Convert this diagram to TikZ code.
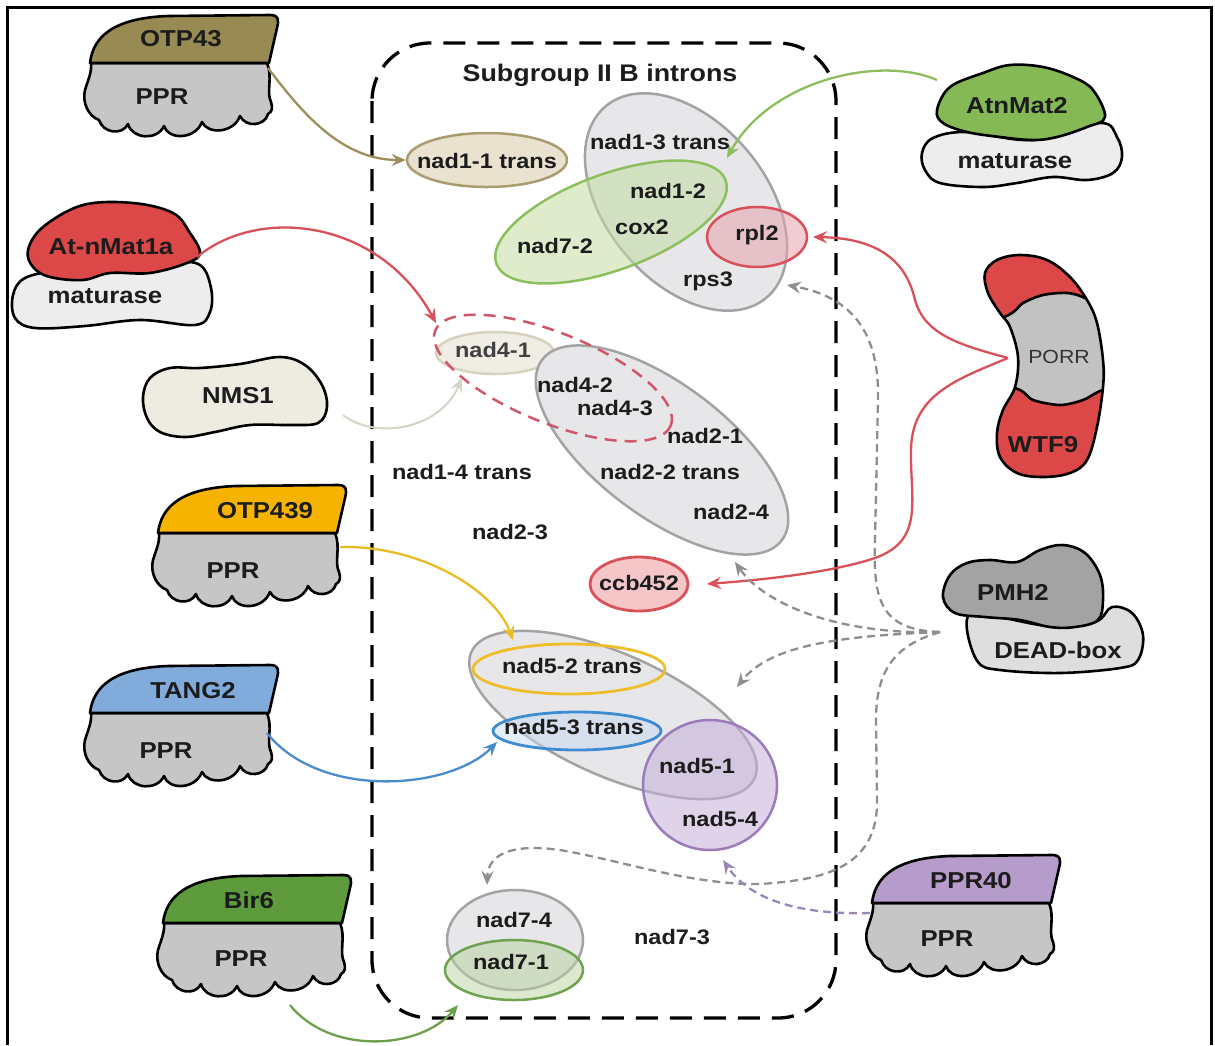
\documentclass[tikz,border=0pt]{standalone}
\usepackage{fontspec}
\setmainfont{Liberation Sans}[FakeStretch=1.12]
\usetikzlibrary{arrows.meta,shapes.geometric}

% protein colours
\definecolor{txt}{HTML}{1C1C1C}
\definecolor{cOlive}{HTML}{978A52}
\definecolor{cPPR}{HTML}{C6C6C6}
\definecolor{cRed}{HTML}{DC4747}
\definecolor{cMat}{HTML}{EDEDED}
\definecolor{cGreenMat}{HTML}{84B956}
\definecolor{cNMS}{HTML}{EEECE1}
\definecolor{cAmber}{HTML}{F6B400}
\definecolor{cBlue}{HTML}{80ABDA}
\definecolor{cBir}{HTML}{5E9B3D}
\definecolor{cPMH}{HTML}{A3A3A3}
\definecolor{cDEAD}{HTML}{DEDEDE}
\definecolor{cLav}{HTML}{B59CCB}
\definecolor{cPORR}{HTML}{C2C2C2}
% connector colours
\definecolor{aOlive}{HTML}{9C8F5C}
\definecolor{aRed}{HTML}{D9505A}
\definecolor{aGreen}{HTML}{8DBD5E}
\definecolor{aNMS}{HTML}{D6D4C6}
\definecolor{aYellow}{HTML}{E8BC22}
\definecolor{aBlue}{HTML}{4A8BC9}
\definecolor{aBir}{HTML}{6E9F4B}
\definecolor{aGrey}{HTML}{8E8E8E}
\definecolor{aPurple}{HTML}{9A86B8}
% intron ellipse colours
\definecolor{eTanF}{HTML}{E9E2CF}
\definecolor{eTanD}{HTML}{A89C70}
\definecolor{eGreyF}{HTML}{E7E7EA}
\definecolor{eGreyD}{HTML}{A3A3A6}
\definecolor{eGreenF}{HTML}{C2DDA2}
\definecolor{eGreenD}{HTML}{8DBF5E}
\definecolor{eRedF}{HTML}{E6A3AC}
\definecolor{ePaleF}{HTML}{F0EEE4}
\definecolor{ePaleD}{HTML}{D6D2C0}
\definecolor{eDash}{HTML}{D2566A}
\definecolor{eCcbF}{HTML}{F4C6C8}
\definecolor{eYelD}{HTML}{EDBE2A}
\definecolor{eBlueF}{HTML}{C6DBF0}
\definecolor{eBlueD}{HTML}{3F8BD2}
\definecolor{ePurF}{HTML}{C4AFD9}
\definecolor{ePurD}{HTML}{9B7BB9}
\definecolor{eN7F}{HTML}{B9D3A0}
\definecolor{eN7D}{HTML}{6FA34F}

\tikzset{
  blob/.style={draw=black, line width=2.6pt, line join=round},
  pics/pprprot/.style={code={
    % wavy PPR domain
    \filldraw[fill=cPPR, blob]
      (3,51) -- (179,51)
      .. controls (185,65) and (178,80) .. (183,90)
      .. controls (185,96) and (184,100) .. (180,102)
      .. controls (177,114) and (158,116) .. (152,104)
      .. controls (146,121) and (120,123) .. (114,110)
      .. controls (107,128) and (80,128) .. (76,114)
      .. controls (69,129) and (44,127) .. (40,112)
      .. controls (34,124) and (15,121) .. (11,108)
      .. controls (0,104) and (-6,90) .. (-3,78)
      .. controls (0,68) and (4,60) .. (3,51) -- cycle;
    % coloured cap
    \filldraw[fill=#1, blob]
      (2,51) .. controls (5,25) and (25,6) .. (80,4)
      -- (182,3) .. controls (191,3) and (191,8) .. (189,16)
      -- (181,51) -- cycle;
  }}
}

\begin{document}
\begin{tikzpicture}[x=1pt,y=-1pt,
  lbl/.style={font=\fontsize{21pt}{25pt}\selectfont\bfseries, text=txt,
    inner sep=0pt, text height=0.72em, text depth=0pt, yshift=-3pt},
  plbl/.style={font=\fontsize{23pt}{27pt}\selectfont\bfseries, text=txt,
    inner sep=0pt, text height=0.72em, text depth=0pt, yshift=-3pt},
  ell/.style={ellipse, inner sep=0pt, line width=2.5pt},
  arrowtip/.style={-{Stealth[length=14pt,width=12pt,inset=5pt]}},
  link/.style={arrowtip, line width=2.3pt},
  dlink/.style={arrowtip, line width=2.3pt, dash pattern=on 8pt off 5pt},
]
\useasboundingbox (0,0) rectangle (1215,1045);

% frame
\draw[line width=3pt] (7,1045) -- (7,7) -- (1211,7) -- (1211,1045);

% subgroup box
\draw[line width=3.3pt, dash pattern=on 22pt off 12pt, rounded corners=58pt]
  (372,43) rectangle (836,1018);
\node[font=\fontsize{24pt}{28pt}\selectfont\bfseries, text=txt, inner sep=0pt,
  text height=0.72em, text depth=0pt, yshift=-3pt]
  (title) at (600,75) {Subgroup II B introns};

% ---- intron groups ----
\node[ell, fill=eTanF, draw=eTanD, minimum width=160pt, minimum height=54pt] (nad11) at (487,160) {};

\node[ell, fill=eGreyF, draw=eGreyD, minimum width=250pt, minimum height=160pt, rotate=-50] (g1) at (686,202) {};
\node[ell, fill=eGreenF, fill opacity=0.55, draw=eGreenD, minimum width=244pt, minimum height=96pt, rotate=20] (g72) at (611,222) {};
\node[ell, fill=eRedF, fill opacity=0.55, draw=aRed, minimum width=100pt, minimum height=60pt] (rpl2) at (757,237) {};

\node[ell, fill=ePaleF, draw=ePaleD, minimum width=118pt, minimum height=42pt] (nad41) at (495,353) {};
\node[ell, fill=eGreyF, draw=eGreyD, minimum width=300pt, minimum height=132pt, rotate=-37] (g2) at (662,450) {};
\node[ell, draw=eDash, dash pattern=on 12pt off 8pt, minimum width=254pt, minimum height=90pt, rotate=-22] (n4) at (553,378) {};
\node[ell, fill=eCcbF, draw=aRed, line width=2.8pt, minimum width=98pt, minimum height=54pt] (ccb) at (639,584) {};

\node[ell, fill=eGreyF, draw=eGreyD, minimum width=310pt, minimum height=122pt, rotate=-24] (g3) at (613,715) {};
\node[ell, draw=eYelD, line width=2.8pt, minimum width=192pt, minimum height=50pt] (nad52) at (569,669) {};
\node[ell, fill=eBlueF, fill opacity=0.5, draw=eBlueD, line width=2.8pt, minimum width=168pt, minimum height=38pt] (nad53) at (577,731) {};
\node[ell, fill=ePurF, fill opacity=0.55, draw=ePurD, minimum width=134pt, minimum height=130pt] (n5) at (710,785) {};

\node[ell, fill=eGreyF, draw=eGreyD, minimum width=136pt, minimum height=100pt] (nad74) at (515,940) {};
\node[ell, fill=eN7F, fill opacity=0.5, draw=eN7D, minimum width=138pt, minimum height=60pt] (nad71) at (514,970) {};

% ---- proteins ----
\pic at (88,12) {pprprot=cOlive};
\pic at (156,482) {pprprot=cAmber};
\pic at (88,662) {pprprot=cBlue};
\pic at (161,872) {pprprot=cBir};
\pic at (870,852) {pprprot=cLav};

% At-nMat1a
\filldraw[fill=cMat, blob] plot[smooth cycle, tension=0.6] coordinates {
  (13,295) (25,278) (60,270) (110,265) (170,262) (200,265) (211,288)
  (210,312) (195,325) (140,320) (85,326) (35,328) (15,318)};
\filldraw[fill=cRed, blob] plot[smooth cycle, tension=0.6] coordinates {
  (28,250) (43,227) (83,205) (133,203) (173,213) (190,233) (200,253)
  (187,263) (150,273) (110,273) (83,280) (50,277) (33,267)};

% AtnMat2
\filldraw[fill=cMat, blob] plot[smooth cycle, tension=0.6] coordinates {
  (922,153) (933,138) (967,132) (1033,140) (1100,123) (1117,137) (1122,157)
  (1113,173) (1087,180) (1053,177) (1017,183) (983,187) (940,183) (925,170)};
\filldraw[fill=cGreenMat, blob] plot[smooth cycle, tension=0.6] coordinates {
  (937,110) (950,87) (983,73) (1010,65) (1043,67) (1073,77) (1093,90)
  (1105,117) (1087,127) (1057,137) (1033,140) (1000,137) (967,132) (943,123)};

% NMS1
\filldraw[fill=cNMS, blob] plot[smooth cycle, tension=0.6] coordinates {
  (143,397) (150,378) (170,368) (200,368) (240,364) (280,357) (305,365)
  (322,385) (327,407) (318,423) (290,425) (250,425) (215,432) (185,437)
  (160,432) (147,418)};

% PMH2
\filldraw[fill=cDEAD, blob] plot[smooth cycle, tension=0.6] coordinates {
  (967,630) (972,612) (1000,617) (1050,626) (1095,622) (1112,607) (1132,613)
  (1143,635) (1138,660) (1120,668) (1060,673) (1000,670) (978,662)};
\filldraw[fill=cPMH, blob] plot[smooth cycle, tension=0.6] coordinates {
  (943,597) (950,575) (967,563) (990,560) (1017,562) (1040,550) (1063,545)
  (1085,553) (1100,575) (1103,600) (1098,620) (1075,627) (1050,627)
  (1020,620) (985,617) (955,613)};

% PORR / WTF9
\def\wtfouter{plot[smooth cycle, tension=0.6] coordinates {
  (985,273) (988,293) (1000,313) (1010,327) (1018,357) (1015,387) (1003,410)
  (997,433) (1000,457) (1017,473) (1043,477) (1070,473) (1087,460) (1097,427)
  (1103,387) (1103,360) (1097,323) (1087,300) (1070,277) (1047,260) (1020,255)
  (997,260)}}
\fill[cRed] \wtfouter;
\begin{scope}
  \clip \wtfouter;
  \filldraw[fill=cPORR, blob] plot[smooth cycle, tension=0.5] coordinates {
    (975,335) (1012,313) (1023,303) (1043,295) (1067,293) (1085,298) (1125,318)
    (1130,380) (1100,391) (1083,400) (1060,405) (1033,400) (1020,390) (980,372)};
\end{scope}
\draw[blob] \wtfouter;

% ---- connector end points ----
\coordinate (otp43-out) at (268,68);
\coordinate (mat1a-out) at (197,257);
\coordinate (mat1a-in) at (436,323);
\coordinate (mat2-out) at (937,80);
\coordinate (mat2-in) at (727,158);
\coordinate (nms1-out) at (343,415);
\coordinate (nms1-in) at (462,378);
\coordinate (otp439-out) at (340,547);
\coordinate (otp439-in) at (513,640);
\coordinate (tang2-out) at (267,733);
\coordinate (tang2-in) at (497,742);
\coordinate (bir6-out) at (290,1005);
\coordinate (bir6-in) at (458,1005);
\coordinate (porr-out) at (1008,358);
\coordinate (rpl2-in) at (813,237);
\coordinate (ccb-in) at (707,584);
\coordinate (pmh2-out) at (940,632);
\coordinate (rps3-in) at (787,285);
\coordinate (g2-in) at (735,562);
\coordinate (g3-in) at (737,687);
\coordinate (nad74-in) at (487,885);
\coordinate (ppr40-out) at (870,913);
\coordinate (n5-in) at (723,860);

% ---- connectors ----
\draw[link, aOlive] (otp43-out) .. controls (300,110) and (340,160) .. (nad11.west);
\draw[link, aRed] (mat1a-out) .. controls (260,205) and (380,220) .. (mat1a-in);
\draw[link, aGreen] (mat2-out) .. controls (880,55) and (770,80) .. (mat2-in);
\draw[link, aNMS, line width=2pt] (nms1-out) .. controls (375,440) and (440,430) .. (nms1-in);
\draw[link, aYellow] (otp439-out) .. controls (420,545) and (495,590) .. (otp439-in);
\draw[link, aBlue] (tang2-out) .. controls (320,800) and (450,790) .. (tang2-in);
\draw[link, aBir] (bir6-out) .. controls (330,1055) and (420,1050) .. (bir6-in);

\draw[link, aRed] (porr-out) .. controls (960,345) and (925,335) .. (915,300)
  .. controls (905,255) and (870,238) .. (rpl2-in);
\draw[link, aRed] (porr-out) .. controls (955,380) and (912,395) .. (911,450)
  .. controls (910,500) and (925,540) .. (875,558)
  .. controls (830,573) and (760,580) .. (ccb-in);

\draw[dlink, aGrey] (pmh2-out) .. controls (880,630) and (873,600) .. (875,540)
  -- (878,400) .. controls (880,320) and (840,295) .. (rps3-in);
\draw[dlink, aGrey] (pmh2-out) .. controls (840,635) and (765,605) .. (g2-in);
\draw[dlink, aGrey] (pmh2-out) .. controls (840,636) and (770,645) .. (g3-in);
\draw[dlink, aGrey] (pmh2-out) .. controls (895,645) and (876,670) .. (876,720)
  -- (877,800) .. controls (878,870) and (820,880) .. (760,884)
  .. controls (690,885) and (620,860) .. (560,850)
  .. controls (510,843) and (488,855) .. (nad74-in);
\draw[dlink, aPurple] (ppr40-out) .. controls (800,915) and (750,900) .. (n5-in);

% ---- intron labels ----
\node[lbl] (t-nad11) at (487,162) {nad1-1 trans};
\node[lbl] (t-nad13) at (660,143) {nad1-3 trans};
\node[lbl] (t-nad12) at (668,192) {nad1-2};
\node[lbl] (t-cox2) at (642,228) {cox2};
\node[lbl] (t-nad72) at (555,247) {nad7-2};
\node[lbl] (t-rpl2) at (757,234) {rpl2};
\node[lbl] (t-rps3) at (708,280) {rps3};
\node[lbl, text=black!75] (t-nad41) at (493,351) {nad4-1};
\node[lbl] (t-nad42) at (575,386) {nad4-2};
\node[lbl] (t-nad43) at (615,409) {nad4-3};
\node[lbl] (t-nad21) at (705,437) {nad2-1};
\node[lbl] (t-nad14) at (462,473) {nad1-4 trans};
\node[lbl] (t-nad22) at (670,473) {nad2-2 trans};
\node[lbl] (t-nad24) at (731,513) {nad2-4};
\node[lbl] (t-nad23) at (510,533) {nad2-3};
\node[lbl] (t-ccb) at (639,584) {ccb452};
\node[lbl] (t-nad52) at (572,667) {nad5-2 trans};
\node[lbl] (t-nad53) at (574,728) {nad5-3 trans};
\node[lbl] (t-nad51) at (697,767) {nad5-1};
\node[lbl] (t-nad54) at (720,820) {nad5-4};
\node[lbl] (t-nad74) at (514,921) {nad7-4};
\node[lbl] (t-nad71) at (511,963) {nad7-1};
\node[lbl] (t-nad73) at (672,938) {nad7-3};

% ---- protein labels ----
\node[plbl] (otp43) at (181,40) {OTP43};
\node[plbl] (otp43ppr) at (162,98) {PPR};
\node[plbl] (mat1a) at (111,248) {At-nMat1a};
\node[plbl] (mat1amat) at (105,297) {maturase};
\node[plbl] (mat2) at (1017,107) {AtnMat2};
\node[plbl] (mat2mat) at (1015,162) {maturase};
\node[plbl] (nms1) at (238,397) {NMS1};
\node[plbl] (otp439) at (265,512) {OTP439};
\node[plbl] (otp439ppr) at (233,572) {PPR};
\node[plbl] (tang2) at (193,692) {TANG2};
\node[plbl] (tang2ppr) at (166,752) {PPR};
\node[plbl] (bir6) at (249,902) {Bir6};
\node[plbl] (bir6ppr) at (241,960) {PPR};
\node[plbl] (ppr40) at (971,882) {PPR40};
\node[plbl] (ppr40ppr) at (947,940) {PPR};
\node[plbl] (pmh2) at (1013,594) {PMH2};
\node[plbl] (dead) at (1058,652) {DEAD-box};
\node[font=\fontsize{19pt}{23pt}\selectfont, text=black!80, inner sep=0pt,
  text height=0.72em, text depth=0pt, yshift=-3pt] (porr) at (1059,357) {PORR};
\node[plbl] (wtf9) at (1043,446) {WTF9};
\end{tikzpicture}
\end{document}
